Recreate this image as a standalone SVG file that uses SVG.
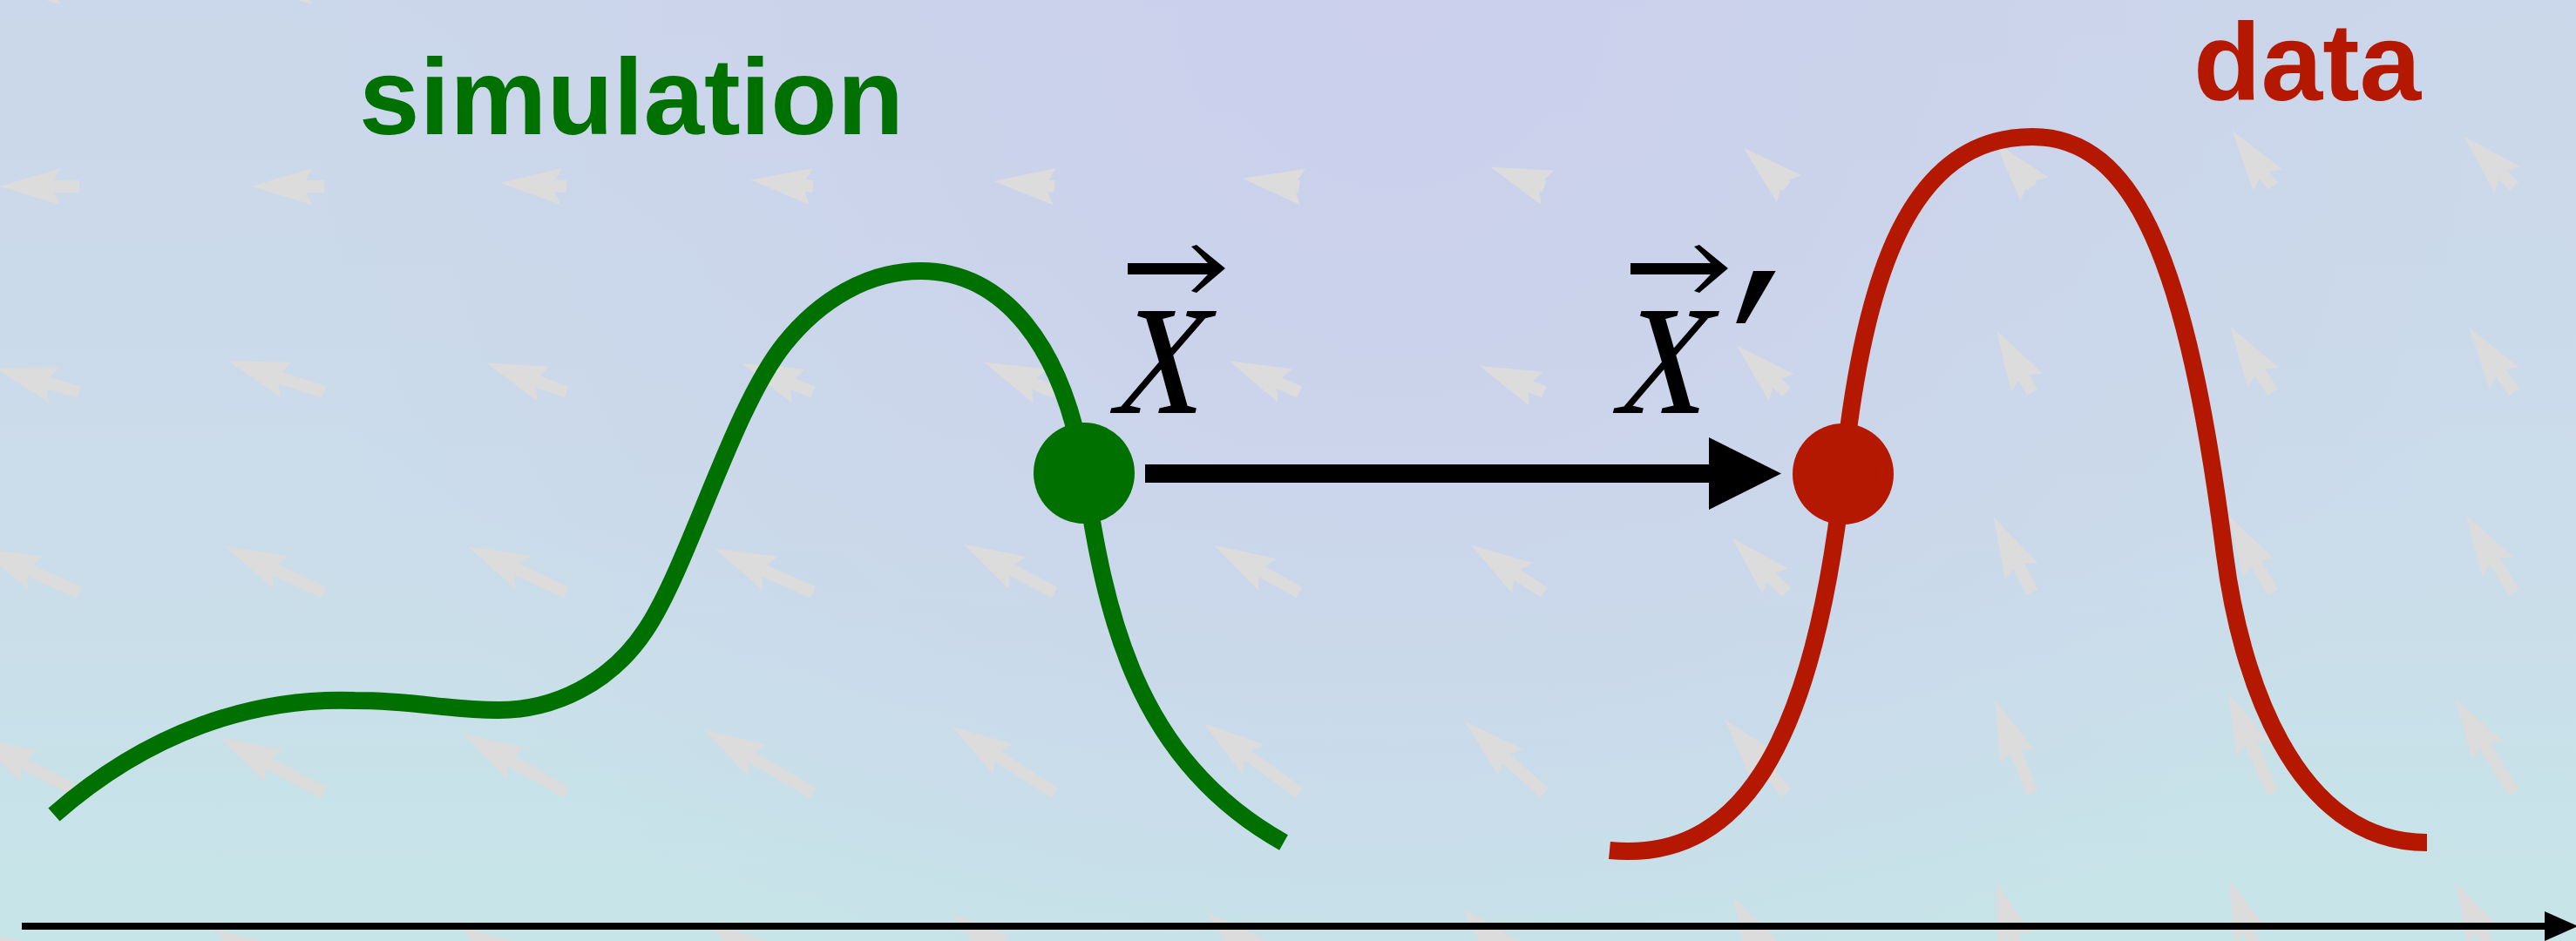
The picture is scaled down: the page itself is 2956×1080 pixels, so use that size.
<svg xmlns="http://www.w3.org/2000/svg" xmlns:xlink="http://www.w3.org/1999/xlink" width="2956" height="1080" viewBox="0 0 2956 1080">
<style>
.q{fill:#dcdcdc}
.lbl{font-family:"Liberation Sans",Arial,sans-serif;font-weight:bold}
.math{font-family:"Liberation Serif","DejaVu Serif","Times New Roman",serif;fill:#000}
.curve{fill:none;stroke-width:20;stroke-linecap:butt}
</style>
<defs>
<linearGradient id="bg" x1="0" y1="0" x2="0" y2="1">
<stop offset="0" stop-color="#cbd7ea"/>
<stop offset="0.55" stop-color="#cbdcea"/>
<stop offset="1" stop-color="#c6e5e8"/>
</linearGradient>
<radialGradient id="lav" cx="1600" cy="0" r="1300" gradientUnits="userSpaceOnUse">
<stop offset="0" stop-color="#cbcfec" stop-opacity="0.95"/>
<stop offset="1" stop-color="#cbcfec" stop-opacity="0"/>
</radialGradient>
<path id="vec" d="M1294 302H1386C1381 297 1375 290 1367 283L1373 281L1406 308L1373 336L1367 334C1375 327 1381 320 1386 315H1294Z"/>
</defs>

<g id="background">
<rect width="2956" height="1080" fill="url(#bg)"/>
<rect width="2956" height="1080" fill="url(#lav)"/>
</g>

<g id="field" class="q">
<path transform="translate(91 -16) rotate(180)" d="M0-7H29L22-21L92 0L22 21L29 7H0Z"/>
<path transform="translate(372 -16) rotate(180)" d="M0-7H21L14-21L84 0L14 21L21 7H0Z"/>

<path transform="translate(91 214) rotate(180)" d="M0-7H29L22-21L92 0L22 21L29 7H0Z"/>
<path transform="translate(372 214) rotate(180)" d="M0-7H21L14-21L84 0L14 21L21 7H0Z"/>
<path transform="translate(650 214) rotate(183)" d="M0-7H13L6-21L76 0L6 21L13 7H0Z"/>
<path transform="translate(933 214) rotate(186)" d="M0-7H9L2-21L72 0L2 21L9 7H0Z"/>
<path transform="translate(1210 214) rotate(185)" d="M0-7H7L0-21L70 0L0 21L7 7H0Z"/>
<path transform="translate(1491 214) rotate(188)" d="M0-7H3L-4-21L66 0L-4 21L3 7H0Z"/>
<path transform="translate(1772 214) rotate(200)" d="M0-7H3L-4-21L66 0L-4 21L3 7H0Z"/>
<path transform="translate(2050 214) rotate(222)" d="M0-7H3L-4-21L66 0L-4 21L3 7H0Z"/>
<path transform="translate(2332 214) rotate(230)" d="M0-7H3L-4-21L66 0L-4 21L3 7H0Z"/>
<path transform="translate(2608 214) rotate(234)" d="M0-7H16L9-21L79 0L9 21L16 7H0Z"/>
<path transform="translate(2885 214) rotate(225)" d="M0-7H18L11-21L81 0L11 21L18 7H0Z"/>

<path transform="translate(91 450) rotate(196)" d="M0-7H37L30-21L100 0L30 21L37 7H0Z"/>
<path transform="translate(372 450) rotate(198)" d="M0-7H53L46-21L116 0L46 21L53 7H0Z"/>
<path transform="translate(650 450) rotate(200)" d="M0-7H35L28-21L98 0L28 21L35 7H0Z"/>
<path transform="translate(933 450) rotate(202)" d="M0-7H25L18-21L88 0L18 21L25 7H0Z"/>
<path transform="translate(1210 450) rotate(203)" d="M0-7H25L18-21L88 0L18 21L25 7H0Z"/>
<path transform="translate(1491 450) rotate(204)" d="M0-7H25L18-21L88 0L18 21L25 7H0Z"/>
<path transform="translate(1772 450) rotate(202)" d="M0-7H17L10-21L80 0L10 21L17 7H0Z"/>
<path transform="translate(2050 450) rotate(223)" d="M0-7H15L8-21L78 0L8 21L15 7H0Z"/>
<path transform="translate(2332 450) rotate(240)" d="M0-7H19L12-21L82 0L12 21L19 7H0Z"/>
<path transform="translate(2608 450) rotate(237)" d="M0-7H27L20-21L90 0L20 21L27 7H0Z"/>
<path transform="translate(2885 450) rotate(235)" d="M0-7H27L20-21L90 0L20 21L27 7H0Z"/>

<path transform="translate(91 680) rotate(204)" d="M0-7H62L55-21L125 0L55 21L62 7H0Z"/>
<path transform="translate(372 680) rotate(205)" d="M0-7H62L55-21L125 0L55 21L62 7H0Z"/>
<path transform="translate(650 680) rotate(205)" d="M0-7H62L55-21L125 0L55 21L62 7H0Z"/>
<path transform="translate(933 680) rotate(204)" d="M0-7H61L54-21L124 0L54 21L61 7H0Z"/>
<path transform="translate(1210 680) rotate(208)" d="M0-7H55L48-21L118 0L48 21L55 7H0Z"/>
<path transform="translate(1491 680) rotate(209)" d="M0-7H49L42-21L112 0L42 21L49 7H0Z"/>
<path transform="translate(1772 680) rotate(213)" d="M0-7H37L30-21L100 0L30 21L37 7H0Z"/>
<path transform="translate(2050 680) rotate(225)" d="M0-7H25L18-21L88 0L18 21L25 7H0Z"/>
<path transform="translate(2332 680) rotate(243)" d="M0-7H34L27-21L97 0L27 21L34 7H0Z"/>
<path transform="translate(2608 680) rotate(240)" d="M0-7H39L32-21L102 0L32 21L39 7H0Z"/>
<path transform="translate(2885 680) rotate(238)" d="M0-7H42L35-21L105 0L35 21L42 7H0Z"/>

<path transform="translate(91 910) rotate(208)" d="M0-7H72L65-21L135 0L65 21L72 7H0Z"/>
<path transform="translate(372 910) rotate(208)" d="M0-7H73L66-21L136 0L66 21L73 7H0Z"/>
<path transform="translate(650 910) rotate(210)" d="M0-7H74L67-21L137 0L67 21L74 7H0Z"/>
<path transform="translate(933 910) rotate(210)" d="M0-7H81L74-21L144 0L74 21L81 7H0Z"/>
<path transform="translate(1210 910) rotate(213)" d="M0-7H77L70-21L140 0L70 21L77 7H0Z"/>
<path transform="translate(1491 910) rotate(216)" d="M0-7H73L66-21L136 0L66 21L73 7H0Z"/>
<path transform="translate(1772 910) rotate(222)" d="M0-7H59L52-21L122 0L52 21L59 7H0Z"/>
<path transform="translate(2050 910) rotate(230)" d="M0-7H47L40-21L110 0L40 21L47 7H0Z"/>
<path transform="translate(2332 910) rotate(248)" d="M0-7H52L45-21L115 0L45 21L52 7H0Z"/>
<path transform="translate(2608 910) rotate(246)" d="M0-7H62L55-21L125 0L55 21L62 7H0Z"/>
<path transform="translate(2885 910) rotate(238)" d="M0-7H64L57-21L127 0L57 21L64 7H0Z"/>

<path transform="translate(91 1140) rotate(210)" d="M0-7H87L80-21L150 0L80 21L87 7H0Z"/>
<path transform="translate(372 1140) rotate(210)" d="M0-7H84L77-21L147 0L77 21L84 7H0Z"/>
<path transform="translate(650 1140) rotate(212)" d="M0-7H82L75-21L145 0L75 21L82 7H0Z"/>
<path transform="translate(933 1140) rotate(214)" d="M0-7H82L75-21L145 0L75 21L82 7H0Z"/>
<path transform="translate(1210 1140) rotate(218)" d="M0-7H86L79-21L149 0L79 21L86 7H0Z"/>
<path transform="translate(1491 1140) rotate(221)" d="M0-7H78L71-21L141 0L71 21L78 7H0Z"/>
<path transform="translate(1772 1140) rotate(226)" d="M0-7H72L65-21L135 0L65 21L72 7H0Z"/>
<path transform="translate(2050 1140) rotate(241)" d="M0-7H63L56-21L126 0L56 21L63 7H0Z"/>
<path transform="translate(2332 1140) rotate(252)" d="M0-7H71L64-21L134 0L64 21L71 7H0Z"/>
<path transform="translate(2608 1140) rotate(249)" d="M0-7H76L69-21L139 0L69 21L76 7H0Z"/>
<path transform="translate(2885 1140) rotate(242)" d="M0-7H81L74-21L144 0L74 21L81 7H0Z"/>
</g>

<g id="sim-curve">
<path class="curve" stroke="#007000" d="M62 935C170 840 290 800 407 804C480 804 510 815 572 815C635 815 700 785 741 723C790 650 840 470 900 395C940 345 995 311 1057 311C1150 311 1220 395 1244 543C1268 700 1300 870 1473 967"/>
</g>
<g id="data-curve">
<path class="curve" stroke="#b41800" d="M1847 976C1990 990 2080 870 2115 544C2138 320 2190 157 2332 157C2450 157 2510 300 2553 637C2570 770 2630 967 2785 967"/>
</g>

<g id="connectors">
<g id="transport-arrow">
<rect x="1314" y="533" width="650" height="21" fill="#000"/>
<polygon points="1961,502 2044,543.5 1961,585" fill="#000"/>
</g>
<g id="axis">
<rect x="25" y="1059" width="2900" height="8" fill="#000"/>
<polygon points="2920,1046 2958,1063 2920,1080" fill="#000"/>
</g>
</g>

<g id="sim-point"><circle cx="1244" cy="543" r="58" fill="#007000"/></g>
<g id="data-point"><circle cx="2115" cy="544" r="58" fill="#b41800"/></g>

<g id="sim-label"><text class="lbl" x="412" y="154" font-size="125" fill="#007000">simulation</text></g>
<g id="data-label"><text class="lbl" x="2517" y="115" font-size="127" fill="#b41800">data</text></g>

<g id="x-label">
<use xlink:href="#vec"/>
<text class="math" transform="translate(1272 474) skewX(-14) scale(0.8 1)" x="0" y="0" font-size="255">x</text>
</g>
<g id="xprime-label">
<use xlink:href="#vec" x="577"/>
<text class="math" transform="translate(1849 474) skewX(-14) scale(0.8 1)" x="0" y="0" font-size="255">x<tspan x="130" y="4" font-weight="bold">′</tspan></text>
</g>
</svg>
